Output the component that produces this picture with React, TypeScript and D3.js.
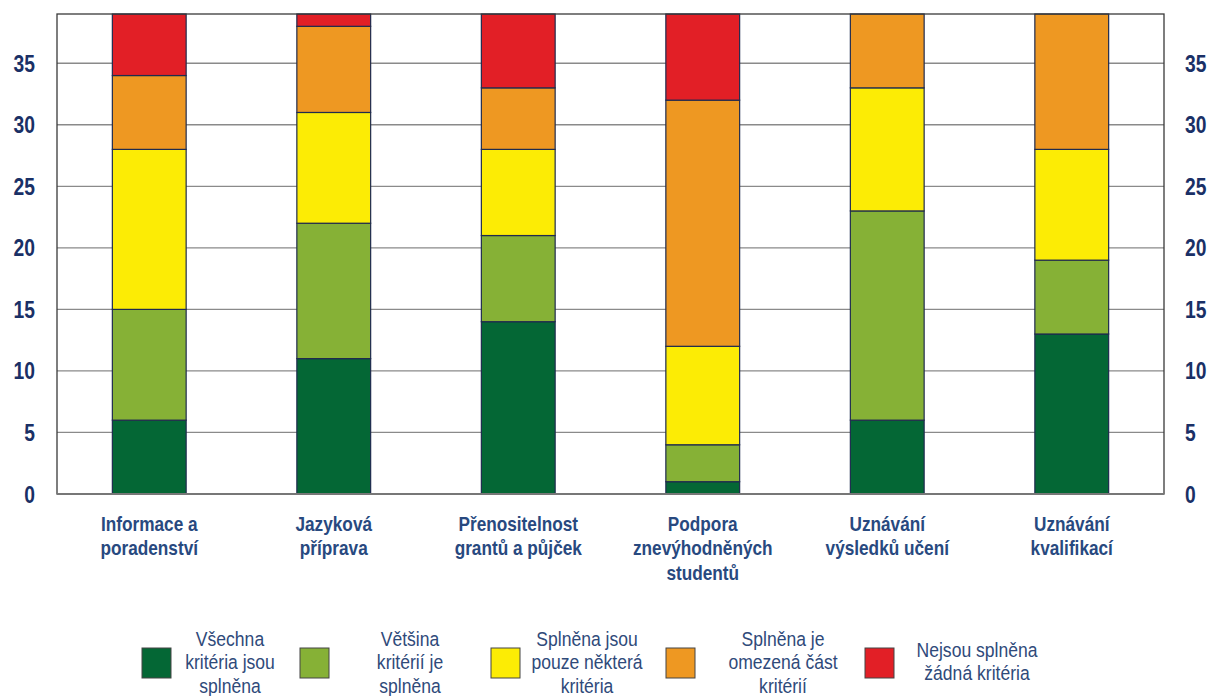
import React from "react";
import * as d3 from "d3";

const categories = [
  ["Informace a", "poradenství"],
  ["Jazyková", "příprava"],
  ["Přenositelnost", "grantů a půjček"],
  ["Podpora", "znevýhodněných", "studentů"],
  ["Uznávání", "výsledků učení"],
  ["Uznávání", "kvalifikací"],
];

const allMet = [6, 11, 14, 1, 6, 13];
const mostMet = [9, 11, 7, 3, 17, 6];
const someMet = [13, 9, 7, 8, 10, 9];
const limitedMet = [6, 7, 5, 20, 6, 11];
const noneMet = [5, 1, 6, 7, 0, 0];

const seriesNames = [
  ["Všechna", "kritéria jsou", "splněna"],
  ["Většina", "kritérií je", "splněna"],
  ["Splněna jsou", "pouze některá", "kritéria"],
  ["Splněna je", "omezená část", "kritérií"],
  ["Nejsou splněna", "žádná kritéria"],
];

const yTicks = [0, 5, 10, 15, 20, 25, 30, 35];

const colors = ["#046735", "#86b136", "#fcec05", "#ee9822", "#e21f26"];
const seriesKeys = ["allMet", "mostMet", "someMet", "limitedMet", "noneMet"];

// legend layout: square x, text center x
const legendLayout = [
  { sx: 142, tx: 230 },
  { sx: 300, tx: 410 },
  { sx: 491, tx: 587 },
  { sx: 666, tx: 783 },
  { sx: 865, tx: 977 },
];

const W = 1210;
const H = 696;
const plot = { left: 57, right: 1164, top: 14, bottom: 494 };

// narrow text: horizontally compressed sans to mimic Arial Narrow
function NarrowText({ x, y, lines, lh, size, weight, fill, anchor, sx }: any) {
  return (
    <text
      transform={`translate(${x},${y}) scale(${sx},1)`}
      fontSize={size}
      fontWeight={weight}
      fill={fill}
      textAnchor={anchor}
    >
      {lines.map((l: string, i: number) => (
        <tspan key={i} x={0} y={i * lh}>
          {l}
        </tspan>
      ))}
    </text>
  );
}

export default function App() {
  const rows = categories.map((c, i) => ({
    i,
    allMet: allMet[i],
    mostMet: mostMet[i],
    someMet: someMet[i],
    limitedMet: limitedMet[i],
    noneMet: noneMet[i],
  }));
  const stacked = d3.stack<any>().keys(seriesKeys)(rows);

  const x = d3
    .scaleBand<number>()
    .domain(categories.map((_, i) => i))
    .range([plot.left, plot.right])
    .paddingInner(0.6)
    .paddingOuter(0.3);
  const y = d3.scaleLinear().domain([0, 39]).range([plot.bottom, plot.top]);

  const tickColor = "#1a3066";
  const labelColor = "#28497f";
  const font = "'Liberation Sans', Arial, sans-serif";

  return (
    <svg
      width={W}
      height={H}
      style={{ position: "absolute", left: 0, top: 0, background: "#fff" }}
      fontFamily={font}
    >
      {/* gridlines */}
      {yTicks.map((t) => (
        <line
          key={"g" + t}
          x1={plot.left}
          x2={plot.right}
          y1={y(t)}
          y2={y(t)}
          stroke="#8a8a8a"
          strokeWidth={1.3}
        />
      ))}
      {/* bars */}
      {stacked.map((s, si) =>
        s.map((d, ci) =>
          d[1] - d[0] > 0 ? (
            <rect
              key={si + "-" + ci}
              x={x(ci)}
              width={x.bandwidth()}
              y={y(d[1])}
              height={y(d[0]) - y(d[1])}
              fill={colors[si]}
              stroke="#1f2b4e"
              strokeWidth={1.2}
            />
          ) : null
        )
      )}
      {/* frame */}
      <rect
        x={plot.left}
        y={plot.top}
        width={plot.right - plot.left}
        height={plot.bottom - plot.top}
        fill="none"
        stroke="#3a3a3a"
        strokeWidth={1.3}
      />
      <line x1={plot.left} x2={plot.right} y1={plot.bottom} y2={plot.bottom} stroke="#777" strokeWidth={2} />
      {/* y tick labels */}
      {yTicks.map((t) => (
        <g key={"t" + t}>
          <NarrowText x={35} y={y(t) + 8.5} lines={[String(t)]} lh={0} size={23.5} weight="bold" fill={tickColor} anchor="end" sx={0.82} />
          <NarrowText x={1185} y={y(t) + 8.5} lines={[String(t)]} lh={0} size={23.5} weight="bold" fill={tickColor} anchor="start" sx={0.82} />
        </g>
      ))}
      {/* category labels */}
      {categories.map((lines, ci) => (
        <NarrowText
          key={"c" + ci}
          x={(x(ci) as number) + x.bandwidth() / 2}
          y={531}
          lines={lines}
          lh={24.5}
          size={20.5}
          weight="bold"
          fill={labelColor}
          anchor="middle"
          sx={0.84}
        />
      ))}
      {/* legend */}
      {seriesNames.map((lines, si) => {
        const L = legendLayout[si];
        const startY = lines.length === 3 ? 646 : 657;
        return (
          <g key={"l" + si}>
            <rect x={L.sx} y={648} width={29} height={30} fill={colors[si]} stroke="#444" strokeWidth={1} />
            <NarrowText x={L.tx} y={startY} lines={lines} lh={23.5} size={19.5} weight="normal" fill="#2f4a7a" anchor="middle" sx={0.9} />
          </g>
        );
      })}
    </svg>
  );
}
